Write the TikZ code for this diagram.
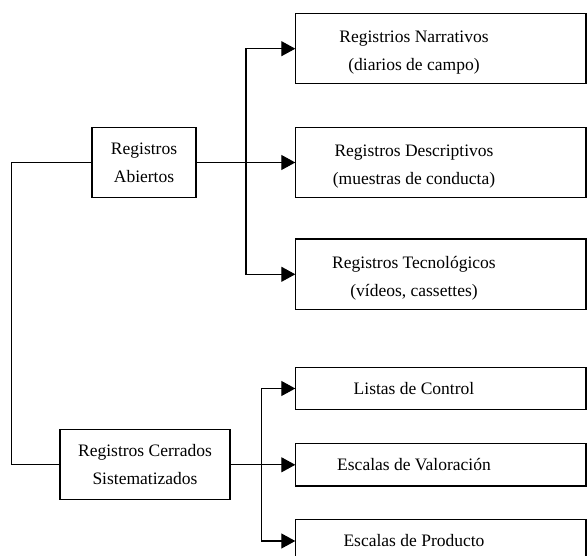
\documentclass[tikz,border=0pt]{standalone}
\usepackage{fontspec}
\setmainfont{Liberation Serif}
\usetikzlibrary{arrows.meta}
\tikzstyle{rec} = [rectangle,draw,line width=1.2pt,text centered,align=center,minimum height=70pt,font=\fontsize{17.5}{28}\selectfont]
\tikzstyle{recder} = [rectangle,text centered,align=center,minimum width=237pt,font=\fontsize{17.5}{28}\selectfont]
\tikzstyle{borde} = [line width=1.2pt]
\tikzstyle{flecha} = [line width=1.1pt,-{Triangle[length=14pt,width=15pt]}]
\newcommand{\subir}{\rule{0pt}{20pt}}

\begin{document}
\begin{tikzpicture}[x=1pt,y=-1pt]
	\useasboundingbox (0,0) rectangle (587,556);
	\clip (0,0) rectangle (587,556);

	\node[recder,minimum height=70pt](narrativos) at (414,48.7) {\subir Registrios Narrativos\\(diarios de campo)};
	\node[recder,minimum height=70pt,node distance=113.8pt,below of=narrativos](descriptivos) {\subir Registros Descriptivos\\(muestras de conducta)};
	\node[recder,minimum height=70pt,node distance=111.8pt,below of=descriptivos](tecnologicos) {\subir Registros Tecnológicos\\(vídeos, cassettes)};
	\node[rec,minimum width=104pt,node distance=270pt,left of=descriptivos](abiertos) {Registros\\Abiertos};

	\node[recder,minimum height=42pt](listas) at (414,388.5) {Listas de Control};
	\node[recder,minimum height=42pt,node distance=76.3pt,below of=listas](valoracion) {Escalas de Valoración};
	\node[recder,minimum height=42pt,node distance=76.2pt,below of=valoracion](producto) {Escalas de Producto};
	\node[rec,minimum width=170pt,node distance=269pt,left of=valoracion](cerrados) {Registros Cerrados\\Sistematizados};

	\foreach \n in {narrativos,descriptivos,tecnologicos,listas,valoracion,producto}
		\draw[borde] (\n.south west) rectangle ([xshift=53.3pt]\n.north east);

	\coordinate (forka) at (246,162.5);
	\coordinate (forkc) at (261.7,464.8);
	\coordinate (izq) at (11.7,162.5);

	\draw[line width=1.1pt] (abiertos.west) -- (izq) |- (cerrados.west);
	\draw[flecha] (abiertos) -- (descriptivos);
	\draw[flecha] (forka) |- (narrativos);
	\draw[flecha] (forka) |- (tecnologicos);
	\draw[flecha] (cerrados) -- (valoracion);
	\draw[flecha] (forkc) |- (listas);
	\draw[flecha] (forkc) |- (producto);

\end{tikzpicture}
\end{document}
